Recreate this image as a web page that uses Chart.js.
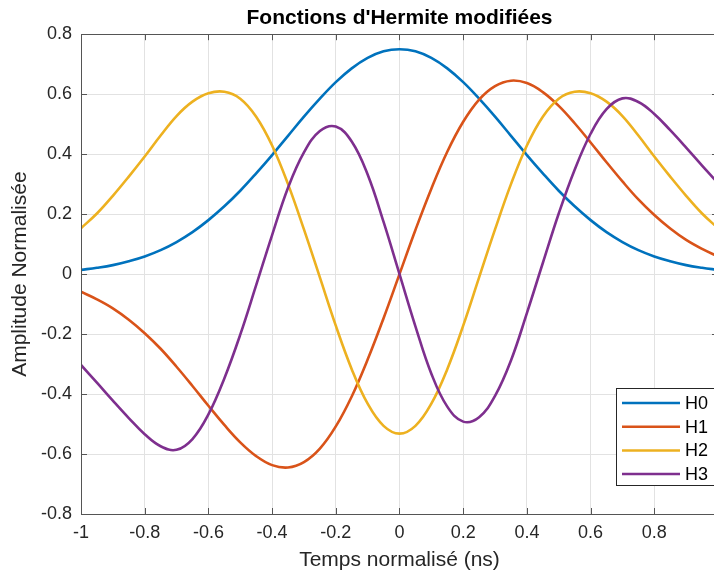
<!DOCTYPE html>
<html>
<head>
<meta charset="utf-8">
<script src="https://cdn.jsdelivr.net/npm/chart.js@4.4.0/dist/chart.umd.min.js"></script>
<style>
  html, body { margin: 0; padding: 0; background: #fff; overflow: hidden; }
  #wrap { width: 714px; height: 573px; overflow: hidden; }
</style>
</head>
<body>
<div id="wrap"><canvas id="hermite" width="731" height="573"></canvas></div>
<script>
// ---- data ----
const T = [-1, -0.95, -0.9, -0.85, -0.8, -0.75, -0.7, -0.65, -0.6, -0.55, -0.5,
           -0.45, -0.4, -0.35, -0.3, -0.25, -0.2, -0.15, -0.1, -0.05, 0,
           0.05, 0.1, 0.15, 0.2, 0.25, 0.3, 0.35, 0.4, 0.45, 0.5,
           0.55, 0.6, 0.65, 0.7, 0.75, 0.8, 0.85, 0.9, 0.95, 1];

const H0 = [0.014, 0.021, 0.030, 0.043, 0.059, 0.080, 0.107, 0.140, 0.180, 0.226, 0.278,
            0.336, 0.397, 0.461, 0.525, 0.585, 0.640, 0.686, 0.721, 0.743, 0.750,
            0.743, 0.721, 0.686, 0.640, 0.585, 0.525, 0.461, 0.397, 0.336, 0.278,
            0.226, 0.180, 0.140, 0.107, 0.080, 0.059, 0.043, 0.030, 0.021, 0.014];

const H1 = [-0.059, -0.084, -0.114, -0.152, -0.197, -0.249, -0.309, -0.373, -0.439, -0.503, -0.561,
            -0.607, -0.637, -0.645, -0.627, -0.582, -0.508, -0.408, -0.285, -0.147, 0,
            0.147, 0.285, 0.408, 0.508, 0.582, 0.627, 0.645, 0.637, 0.607, 0.561,
            0.503, 0.439, 0.373, 0.309, 0.249, 0.197, 0.152, 0.114, 0.084, 0.059];

const H2 = [0.153, 0.202, 0.261, 0.325, 0.392, 0.462, 0.527, 0.575, 0.603, 0.608, 0.585,
            0.525, 0.429, 0.300, 0.149, -0.011, -0.172, -0.317, -0.432, -0.506, -0.532,
            -0.506, -0.432, -0.317, -0.172, -0.011, 0.149, 0.300, 0.429, 0.525, 0.585,
            0.608, 0.603, 0.575, 0.527, 0.462, 0.392, 0.325, 0.261, 0.202, 0.153];

const H3 = [-0.303, -0.362, -0.422, -0.480, -0.534, -0.574, -0.586, -0.550, -0.468, -0.348, -0.202,
            -0.037, 0.130, 0.288, 0.406, 0.477, 0.492, 0.442, 0.332, 0.174, 0,
            -0.174, -0.332, -0.442, -0.492, -0.477, -0.406, -0.288, -0.130, 0.037, 0.202,
            0.348, 0.468, 0.550, 0.586, 0.574, 0.534, 0.480, 0.422, 0.362, 0.303];

const names = ['H0', 'H1', 'H2', 'H3'];
const colors = ['#0072BD', '#D95319', '#EDB120', '#7E2F8E'];

const FONT = '"Liberation Sans", Arial, sans-serif';
const INK = '#262626';

// ---- plugins ----
// box around the axes with short inward ticks on all four sides
const axesBox = {
  id: 'axesBox',
  afterDatasetsDraw(chart) {
    const { ctx, chartArea: a, scales: { x, y } } = chart;
    const len = 6;
    ctx.save();
    ctx.strokeStyle = '#555';
    ctx.lineWidth = 1;
    ctx.beginPath();
    x.ticks.forEach(t => {
      const px = Math.round(x.getPixelForValue(t.value)) + 0.5;
      ctx.moveTo(px, a.bottom); ctx.lineTo(px, a.bottom - len);
      ctx.moveTo(px, a.top); ctx.lineTo(px, a.top + len);
    });
    y.ticks.forEach(t => {
      const py = Math.round(y.getPixelForValue(t.value)) + 0.5;
      ctx.moveTo(a.left, py); ctx.lineTo(a.left + len, py);
      ctx.moveTo(a.right, py); ctx.lineTo(a.right - len, py);
    });
    ctx.stroke();
    ctx.strokeRect(Math.round(a.left) + 0.5, Math.round(a.top) + 0.5,
                   Math.round(a.right - a.left), Math.round(a.bottom - a.top));
    ctx.restore();
  }
};

// legend box, lower right corner inside the axes
const boxLegend = {
  id: 'boxLegend',
  afterDraw(chart) {
    const { ctx } = chart;
    const x0 = 616, y0 = 388, w = 102, h = 97;
    ctx.save();
    ctx.fillStyle = '#fff';
    ctx.fillRect(x0, y0, w, h);
    ctx.strokeStyle = INK;
    ctx.lineWidth = 1;
    ctx.strokeRect(x0 + 0.5, y0 + 0.5, w, h);
    ctx.font = '18px ' + FONT;
    ctx.textBaseline = 'middle';
    chart.data.datasets.forEach((ds, i) => {
      const yy = y0 + 15 + i * 23.7;
      ctx.strokeStyle = ds.borderColor;
      ctx.lineWidth = 2.5;
      ctx.beginPath();
      ctx.moveTo(x0 + 6, yy);
      ctx.lineTo(x0 + 64, yy);
      ctx.stroke();
      ctx.fillStyle = '#000';
      ctx.fillText(ds.label, x0 + 69, yy + 1);
    });
    ctx.restore();
  }
};

const series = [H0, H1, H2, H3];
const datasets = series.map((vals, i) => ({
  label: names[i],
  data: T.map((t, k) => ({ x: t, y: vals[k] })),
  borderColor: colors[i],
  backgroundColor: colors[i],
  borderWidth: 2.6,
  pointRadius: 0,
  tension: 0.4,
  fill: false,
  order: 4 - i
}));

const tickFmt = v => String(+Number(v).toFixed(1));

new Chart(document.getElementById('hermite'), {
  type: 'line',
  data: { datasets },
  options: {
    responsive: false,
    animation: false,
    layout: { padding: 0 },
    plugins: {
      legend: { display: false },
      tooltip: { enabled: false },
      title: {
        display: true,
        fullSize: false,
        text: "Fonctions d'Hermite modifiées",
        color: '#000',
        font: { family: FONT, size: 21, weight: 'bold', lineHeight: 1.2 },
        padding: { top: 6, bottom: 3 }
      }
    },
    scales: {
      x: {
        type: 'linear',
        min: -1, max: 1,
        afterFit: s => { s.height = 59; },
        ticks: { stepSize: 0.2, color: INK, padding: 8, maxRotation: 0,
                 font: { family: FONT, size: 18 }, callback: tickFmt },
        grid: { color: '#e2e2e2', drawTicks: false },
        border: { display: false },
        title: { display: true, text: 'Temps normalisé (ns)', color: INK,
                 font: { family: FONT, size: 21, lineHeight: 1.2 }, padding: { bottom: 0 } }
      },
      y: {
        type: 'linear',
        min: -0.8, max: 0.8,
        afterFit: s => { s.width = 81; },
        ticks: { stepSize: 0.2, color: INK, padding: 9,
                 font: { family: FONT, size: 18 }, callback: tickFmt },
        grid: { color: '#e2e2e2', drawTicks: false },
        border: { display: false },
        title: { display: true, text: 'Amplitude Normalisée', color: INK,
                 font: { family: FONT, size: 21, lineHeight: 1.2 }, padding: { top: 8 } }
      }
    }
  },
  plugins: [axesBox, boxLegend]
});
</script>
</body>
</html>
